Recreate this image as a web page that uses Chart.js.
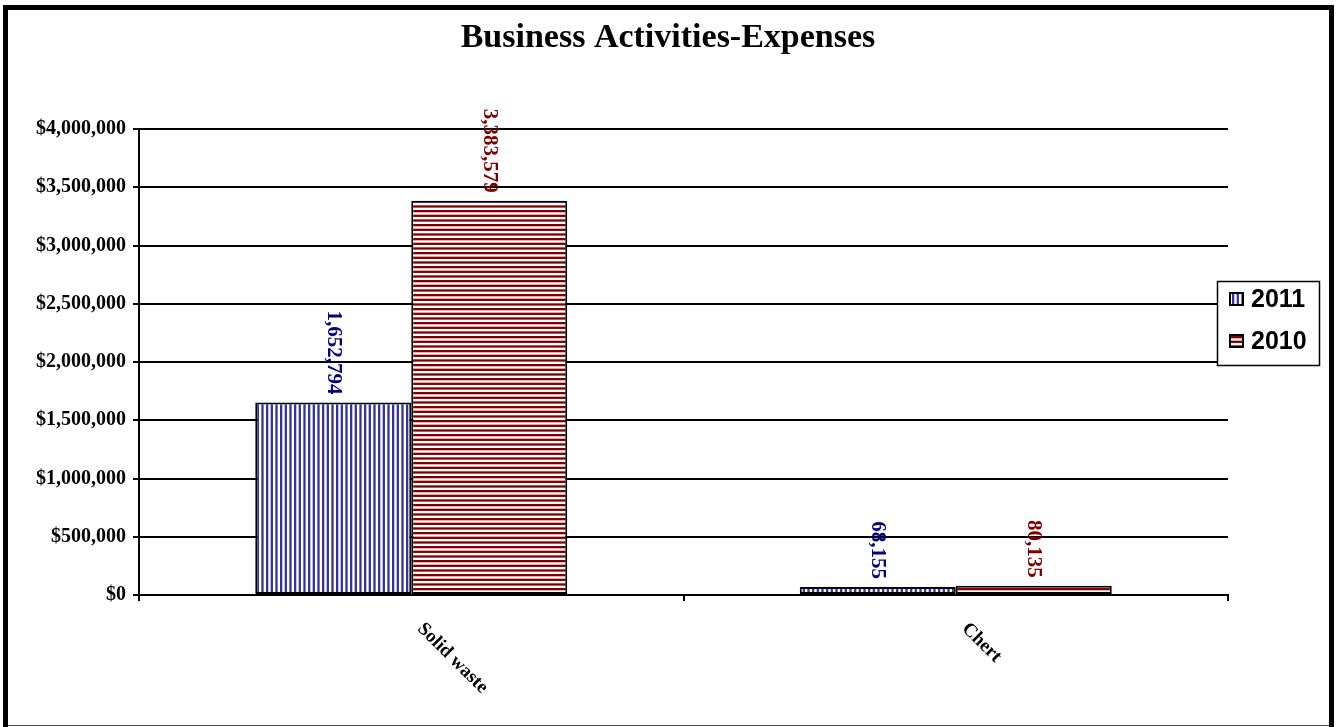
<!DOCTYPE html>
<html>
<head>
<meta charset="utf-8">
<script src="https://cdn.jsdelivr.net/npm/chart.js@4/dist/chart.umd.min.js"></script>
<style>
  html, body { margin: 0; padding: 0; background: #fff; }
  #wrap { width: 1336px; height: 727px; position: relative; }
</style>
</head>
<body>
<div id="wrap"><canvas id="chart" width="1336" height="727"></canvas></div>
<script>
/* data */
const categories = ["Solid waste", "Chert"];
const seriesNames = ["2011", "2010"];
const values2011 = [1652794, 68155];
const values2010 = [3383579, 80135];
const yTicks = [0, 500000, 1000000, 1500000, 2000000, 2500000, 3000000, 3500000, 4000000];

const SERIF = '"Liberation Serif", "Times New Roman", serif';
const SANS = '"Liberation Sans", Arial, sans-serif';

/* striped fills, 3 stripes per 14px tile */
function stripes(color, vertical) {
  const c = document.createElement("canvas");
  c.width = 14; c.height = 14;
  const x = c.getContext("2d");
  x.fillStyle = "#fff";
  x.fillRect(0, 0, 14, 14);
  x.fillStyle = color;
  for (let k = 0; k < 3; k++) {
    const p = k * 14 / 3;
    if (vertical) x.fillRect(p, 0, 2.3, 14);
    else x.fillRect(0, p, 14, 2.3);
  }
  return x.createPattern(c, "repeat");
}
const ctx0 = document.getElementById("chart").getContext("2d");
const blueFill = stripes("#333399", true);
const redFill = stripes("#800000", false);
const labelColors = ["#000080", "#800000"];

/* frame, title, legend, rotated labels */
const extras = {
  id: "extras",
  afterDraw(chart) {
    const ctx = chart.ctx;
    ctx.save();

    // outer frame
    ctx.fillStyle = "#000";
    ctx.fillRect(3, 5, 5, 722);
    ctx.fillRect(3, 5, 1331, 5);
    ctx.fillRect(1329, 5, 5, 722);
    ctx.fillStyle = "#444";
    ctx.fillRect(8, 725, 1321, 1);

    // title
    ctx.fillStyle = "#000";
    ctx.font = "bold 34px " + SERIF;
    ctx.textAlign = "center";
    ctx.textBaseline = "middle";
    ctx.fillText("Business Activities-Expenses", 668, 38);

    // value labels, rotated
    ctx.font = "bold 21px " + SERIF;
    chart.data.datasets.forEach((ds, i) => {
      const meta = chart.getDatasetMeta(i);
      meta.data.forEach((bar, j) => {
        ctx.save();
        ctx.translate(bar.x, bar.y - 8);
        ctx.rotate(Math.PI / 2);
        ctx.fillStyle = labelColors[i];
        ctx.textAlign = "right";
        ctx.textBaseline = "middle";
        ctx.fillText(ds.data[j].toLocaleString("en-US"), 0, 0);
        ctx.restore();
      });
    });

    // category labels going down-right
    const xs = chart.scales.x;
    ctx.font = "bold 19px " + SERIF;
    ctx.fillStyle = "#000";
    categories.forEach((c, i) => {
      ctx.save();
      ctx.translate(xs.getPixelForValue(i) + 9, 626);
      ctx.rotate(Math.PI / 4);
      ctx.textAlign = "left";
      ctx.textBaseline = "middle";
      ctx.fillText(c, 0, 0);
      ctx.restore();
    });

    // legend
    ctx.fillStyle = "#fff";
    ctx.fillRect(1217, 281, 103, 85);
    ctx.strokeStyle = "#000";
    ctx.lineWidth = 1.5;
    ctx.strokeRect(1217.5, 281.5, 102, 84);
    const fills = [blueFill, redFill];
    seriesNames.forEach((n, i) => {
      const cy = 299 + i * 42;
      ctx.fillStyle = fills[i];
      ctx.fillRect(1230, cy - 6, 13, 12);
      ctx.lineWidth = 2;
      ctx.strokeRect(1230, cy - 6, 13, 12);
      ctx.fillStyle = "#000";
      ctx.font = "bold 25px " + SANS;
      ctx.textAlign = "left";
      ctx.textBaseline = "middle";
      ctx.fillText(n, 1251, cy + 1);
    });

    ctx.restore();
  }
};

new Chart(ctx0, {
  type: "bar",
  data: {
    labels: categories,
    datasets: [
      { label: seriesNames[0], data: values2011, backgroundColor: blueFill },
      { label: seriesNames[1], data: values2010, backgroundColor: redFill }
    ]
  },
  options: {
    responsive: false,
    animation: false,
    layout: { padding: { left: 0, top: 129, right: 108, bottom: 0 } },
    datasets: {
      bar: {
        borderColor: "#000",
        borderWidth: 2,
        borderSkipped: false,
        categoryPercentage: 0.573,
        barPercentage: 1
      }
    },
    plugins: {
      legend: { display: false },
      title: { display: false },
      tooltip: { enabled: false }
    },
    scales: {
      x: {
        offset: true,
        afterFit: (s) => { s.height = 132; },
        grid: {
          offset: true,
          drawOnChartArea: false,
          drawTicks: true,
          tickLength: 6,
          color: "#000",
          lineWidth: 2
        },
        border: { color: "#000", width: 2 },
        ticks: { display: false }
      },
      y: {
        min: 0,
        max: 4000000,
        afterFit: (s) => { s.width = 139; },
        afterBuildTicks: (s) => { s.ticks = yTicks.map(v => ({ value: v })); },
        grid: { color: "#000", lineWidth: 2, tickLength: 6 },
        border: { color: "#000", width: 2 },
        ticks: {
          color: "#000",
          padding: 7,
          font: { family: SERIF, size: 20, weight: "bold" },
          callback: (v) => "$" + Number(v).toLocaleString("en-US")
        }
      }
    }
  },
  plugins: [extras]
});
</script>
</body>
</html>
